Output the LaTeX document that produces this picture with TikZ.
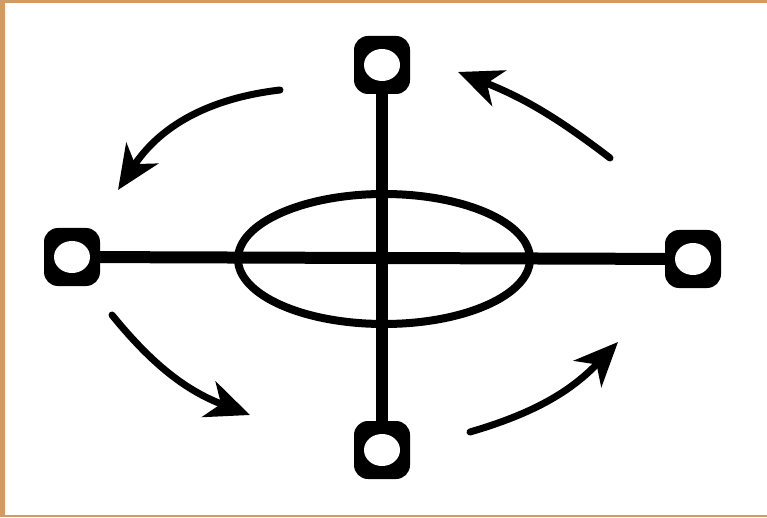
\documentclass[tikz,border=0pt]{standalone}
\usepackage{xcolor}
\usepackage{tikz}
\usetikzlibrary{arrows.meta,shapes.geometric}
\definecolor{framebrown}{HTML}{D19B63}

\begin{document}
\begin{tikzpicture}[
    x=1pt, y=1pt,
    terminal/.style={fill=black, rounded corners=14pt, minimum width=56pt, minimum height=58pt, inner sep=0pt,
        path picture={\fill[white] (path picture bounding box.center) ellipse (18pt and 16pt);}},
    hubring/.style={draw, ellipse, line width=8pt, minimum width=292pt, minimum height=130pt, inner sep=0pt},
    rod/.style={line width=12pt},
    turn/.style={-{Stealth[length=44pt, width=38pt, inset=13pt]}, line width=7pt, line cap=round}
]
\useasboundingbox (0,0) rectangle (767,517);
% frame
\fill[framebrown] (0,0) rectangle (5,517);
\fill[framebrown] (0,514) rectangle (767,517);
\fill[framebrown] (0,0) rectangle (767,2);
% body
\node[hubring] (hub) at (384,258) {};
\node[terminal] (tN) at (382,452) {};
\node[terminal] (tS) at (382,67) {};
\node[terminal] (tW) at (72,260) {};
\node[terminal] (tE) at (693,258) {};
\draw[rod] (tW) -- (tE);
\draw[rod] (tN) -- (tS);
% rotation arrows
\coordinate (a1s) at (280,427);
\coordinate (a1e) at (118,327);
\coordinate (a2s) at (610,359);
\coordinate (a2e) at (458,445);
\coordinate (a3s) at (112,202);
\coordinate (a3e) at (250,102);
\coordinate (a4s) at (470,85);
\coordinate (a4e) at (618,175);
\draw[turn] (a1s) to[bend right=25] (a1e);
\draw[turn] (a2s) to[bend right=8] (a2e);
\draw[turn] (a3s) to[bend right=15] (a3e);
\draw[turn] (a4s) to[bend right=15] (a4e);
\end{tikzpicture}
\end{document}
